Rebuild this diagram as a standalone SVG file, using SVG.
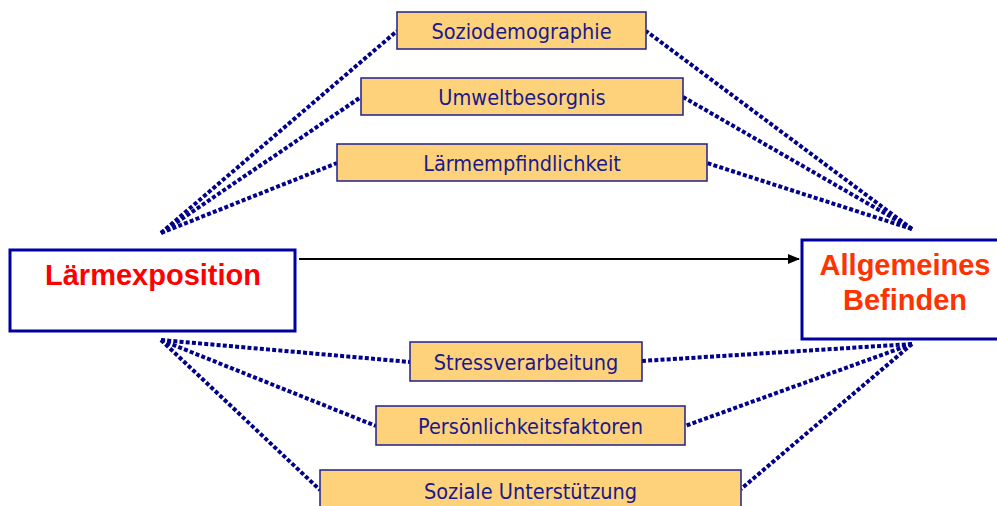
<svg xmlns="http://www.w3.org/2000/svg" width="997" height="506" viewBox="0 0 997 506">
<style>
.fac rect{fill:#fdd27b;stroke:#1f1f8f;stroke-width:1.5}
.fac text{font-family:"DejaVu Sans Condensed","DejaVu Sans",sans-serif;font-stretch:condensed;font-size:21.5px;fill:#1a1a8a;text-anchor:middle;dominant-baseline:central}
.main rect{fill:#fff;stroke:#0000a0;stroke-width:3}
.main text{font-family:"Liberation Sans",Arial,sans-serif;font-size:29px;font-weight:bold;text-anchor:middle}
.dot{stroke:#00008c;stroke-width:4;stroke-dasharray:4 2.2;fill:none}
</style>
<defs>
<marker id="ah" markerWidth="12" markerHeight="10" refX="11" refY="5" orient="auto" markerUnits="userSpaceOnUse">
<path d="M0,0 L12,5 L0,10 Z" fill="#000"/>
</marker>
</defs>
<g id="connectors">
<line class="dot" x1="161" y1="233" x2="397" y2="31"/>
<line class="dot" x1="161" y1="233" x2="361" y2="97"/>
<line class="dot" x1="161" y1="233" x2="337" y2="163"/>
<line class="dot" x1="912" y1="229" x2="646" y2="31"/>
<line class="dot" x1="912" y1="229" x2="683" y2="97"/>
<line class="dot" x1="912" y1="229" x2="707" y2="163"/>
<line class="dot" x1="161" y1="340" x2="410" y2="362"/>
<line class="dot" x1="161" y1="340" x2="376" y2="426"/>
<line class="dot" x1="161" y1="340" x2="320" y2="490"/>
<line class="dot" x1="912" y1="344" x2="642" y2="361"/>
<line class="dot" x1="912" y1="344" x2="685" y2="426"/>
<line class="dot" x1="912" y1="344" x2="741" y2="489"/>
<line x1="299" y1="259" x2="799" y2="259" stroke="#000" stroke-width="2" marker-end="url(#ah)"/>
</g>
<g id="laermexposition" class="main">
<rect x="10" y="250" width="285" height="81"/>
<text x="153" y="285" fill="#ff0000">Lärmexposition</text>
</g>
<g id="befinden" class="main">
<rect x="802" y="240" width="200" height="99"/>
<text x="905" y="275" fill="#ff3300">Allgemeines</text>
<text x="905" y="310" fill="#ff3300">Befinden</text>
</g>
<g id="soziodemographie" class="fac">
<rect x="397" y="12" width="249" height="37"/>
<text x="521.5" y="31">Soziodemographie</text>
</g>
<g id="umweltbesorgnis" class="fac">
<rect x="361" y="78" width="322" height="37"/>
<text x="522" y="97">Umweltbesorgnis</text>
</g>
<g id="laermempfindlichkeit" class="fac">
<rect x="337" y="144" width="370" height="37"/>
<text x="522" y="163">Lärmempfindlichkeit</text>
</g>
<g id="stressverarbeitung" class="fac">
<rect x="410" y="342" width="232" height="39"/>
<text x="526" y="362">Stressverarbeitung</text>
</g>
<g id="persoenlichkeitsfaktoren" class="fac">
<rect x="376" y="406" width="309" height="39"/>
<text x="530.5" y="426">Persönlichkeitsfaktoren</text>
</g>
<g id="soziale" class="fac">
<rect x="320" y="470" width="421" height="40"/>
<text x="530.5" y="491">Soziale Unterstützung</text>
</g>
</svg>
